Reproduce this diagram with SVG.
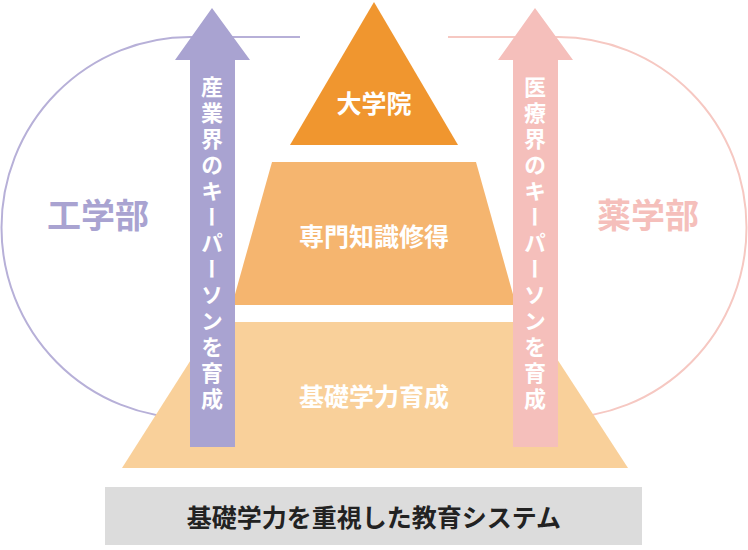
<svg xmlns="http://www.w3.org/2000/svg" width="748" height="550" viewBox="0 0 748 550">
<style>
text{font-family:"Noto Sans CJK JP","Noto Sans CJK SC",sans-serif;font-weight:bold}
.w{fill:#fff;font-size:25px}
.v{fill:#fff;font-size:22px;writing-mode:vertical-rl;text-orientation:upright;letter-spacing:4px}
</style>
<g id="loops" fill="none" stroke-width="2">
<path d="M300,37 H190 A188,190 0 0 0 190,418 H300" stroke="#b7b0d8"/>
<path d="M448,37 H558 A188,190 0 0 1 558,418 H448" stroke="#f6c8c2"/>
</g>
<g id="base"><polygon points="215,322 533,322 628,468 122,468" fill="#f9d09a"/><text class="w" x="374" y="406" text-anchor="middle">基礎学力育成</text></g>
<g id="mid"><polygon points="272,162 476,162 516,305 232,305" fill="#f5b56f"/><text class="w" x="374" y="246" text-anchor="middle">専門知識修得</text></g>
<g id="top"><polygon points="374,2 458,145 290,145" fill="#f0962f"/><text class="w" x="374" y="113" text-anchor="middle">大学院</text></g>
<g id="arrowL"><polygon points="212,8 250,60 235,60 235,447 190,447 190,60 175,60" fill="#a9a3d1"/><text class="v" x="212" y="76">産業界のキーパーソンを育成</text></g>
<g id="arrowR"><polygon points="535,8 573,60 558,60 558,447 513,447 513,60 498,60" fill="#f5bfbb"/><text class="v" x="535" y="76">医療界のキーパーソンを育成</text></g>
<g id="labels"><text x="98" y="228" font-size="34" fill="#a9a3d1" text-anchor="middle">工学部</text><text x="648" y="228" font-size="34" fill="#f5bfbb" text-anchor="middle">薬学部</text></g>
<g id="footer"><rect x="105" y="487" width="537" height="58" fill="#dcdcdc"/><text x="374" y="527" font-size="25" fill="#222" text-anchor="middle">基礎学力を重視した教育システム</text></g>
</svg>
